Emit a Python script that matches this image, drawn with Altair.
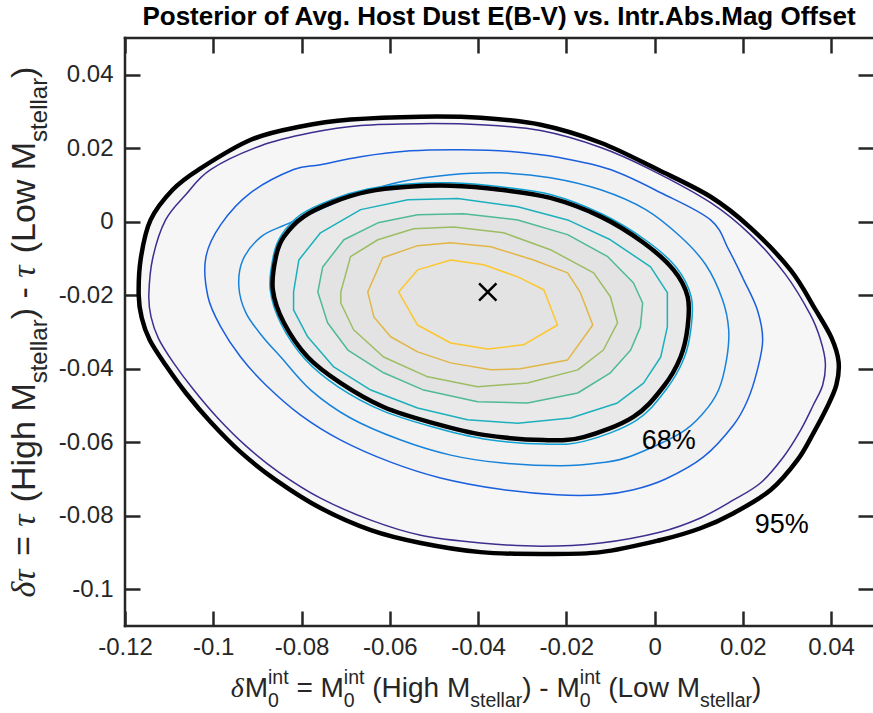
import altair as alt
import pandas as pd

# ---------------- data ----------------
c95_x = [-0.1169, -0.1164, -0.1142, -0.1092, -0.1033, -0.0915, -0.0802, -0.0689, -0.0530, -0.0394, -0.0258, -0.0122, 0.0007, 0.0127, 0.0217, 0.0308, 0.0365, 0.0401, 0.0417, 0.0412, 0.0390, 0.0360, 0.0324, 0.0263, 0.0179, 0.0104, 0.0014, -0.0122, -0.0258, -0.0394, -0.0530, -0.0643, -0.0757, -0.0858, -0.0938, -0.1006, -0.1062, -0.1108, -0.1144, -0.1162]
c95_y = [-0.0199, -0.0098, 0.0005, 0.0087, 0.0142, 0.0223, 0.0259, 0.0278, 0.0286, 0.0283, 0.0264, 0.0215, 0.0142, 0.0068, -0.0016, -0.0131, -0.0240, -0.0316, -0.0381, -0.0444, -0.0507, -0.0575, -0.0648, -0.0730, -0.0793, -0.0834, -0.0866, -0.0899, -0.0904, -0.0899, -0.0874, -0.0839, -0.0779, -0.0703, -0.0627, -0.0545, -0.0466, -0.0390, -0.0322, -0.0262]

purple_x = [-0.1146, -0.1137, -0.1108, -0.1062, -0.1006, -0.0892, -0.0779, -0.0666, -0.0530, -0.0394, -0.0258, -0.0122, -0.0009, 0.0127, 0.0217, 0.0297, 0.0353, 0.0376, 0.0387, 0.0381, 0.0360, 0.0331, 0.0292, 0.0240, 0.0179, 0.0104, 0.0014, -0.0122, -0.0258, -0.0394, -0.0530, -0.0643, -0.0757, -0.0852, -0.0926, -0.0990, -0.1044, -0.1090, -0.1124, -0.1141]
purple_y = [-0.0199, -0.0098, 0.0005, 0.0074, 0.0142, 0.0207, 0.0242, 0.0262, 0.0267, 0.0264, 0.0248, 0.0202, 0.0142, 0.0052, -0.0035, -0.0144, -0.0253, -0.0321, -0.0384, -0.0444, -0.0498, -0.0567, -0.0640, -0.0711, -0.0757, -0.0806, -0.0844, -0.0874, -0.0883, -0.0874, -0.0853, -0.0812, -0.0752, -0.0681, -0.0610, -0.0534, -0.0458, -0.0384, -0.0318, -0.0259]

blue1_x = [-0.1017, -0.1012, -0.0983, -0.0938, -0.0881, -0.0802, -0.0711, -0.0598, -0.0485, -0.0349, -0.0222, -0.0122, -0.0050, 0.0025, 0.0111, 0.0179, 0.0211, 0.0233, 0.0245, 0.0233, 0.0202, 0.0168, 0.0127, 0.0014, -0.0100, -0.0213, -0.0326, -0.0439, -0.0553, -0.0666, -0.0757, -0.0818, -0.0915, -0.0983]
blue1_y = [-0.0098, -0.0204, -0.0286, -0.0368, -0.0444, -0.0526, -0.0594, -0.0654, -0.0697, -0.0728, -0.0743, -0.0743, -0.0730, -0.0700, -0.0640, -0.0553, -0.0485, -0.0403, -0.0321, -0.0240, -0.0158, -0.0076, 0.0005, 0.0079, 0.0142, 0.0174, 0.0191, 0.0196, 0.0193, 0.0177, 0.0155, 0.0142, 0.0079, -0.0008]

blue2_x = [-0.0942, -0.0926, -0.0888, -0.0847, -0.0779, -0.0689, -0.0575, -0.0462, -0.0349, -0.0213, -0.0122, -0.0054, 0.0059, 0.0111, 0.0145, 0.0163, 0.0168, 0.0154, 0.0116, 0.0059, -0.0020, -0.0122, -0.0236, -0.0349, -0.0462, -0.0575, -0.0677, -0.0734, -0.0779, -0.0836, -0.0892, -0.0933]
blue2_y = [-0.0177, -0.0248, -0.0313, -0.0368, -0.0458, -0.0534, -0.0594, -0.0635, -0.0656, -0.0664, -0.0656, -0.0638, -0.0575, -0.0520, -0.0458, -0.0376, -0.0294, -0.0212, -0.0117, -0.0041, 0.0033, 0.0087, 0.0120, 0.0133, 0.0128, 0.0109, 0.0074, 0.0046, 0.0022, -0.0008, -0.0041, -0.0104]

c68_x = [-0.0865, -0.0858, -0.0840, -0.0795, -0.0727, -0.0650, -0.0559, -0.0462, -0.0349, -0.0236, -0.0122, -0.0025, 0.0043, 0.0075, 0.0075, 0.0059, 0.0020, -0.0048, -0.0161, -0.0251, -0.0387, -0.0501, -0.0614, -0.0711, -0.0786, -0.0840]
c68_y = [-0.0185, -0.0095, -0.0041, 0.0014, 0.0054, 0.0082, 0.0095, 0.0098, 0.0087, 0.0065, 0.0014, -0.0057, -0.0131, -0.0204, -0.0286, -0.0368, -0.0449, -0.0531, -0.0586, -0.0594, -0.0580, -0.0548, -0.0504, -0.0439, -0.0368, -0.0275]

cyan_x = [-0.0871, -0.0864, -0.0846, -0.0801, -0.0730, -0.0650, -0.0559, -0.0462, -0.0349, -0.0232, -0.0119, -0.0019, 0.0049, 0.0083, 0.0083, 0.0067, 0.0026, -0.0042, -0.0158, -0.0251, -0.0387, -0.0504, -0.0617, -0.0717, -0.0792, -0.0846]
cyan_y = [-0.0185, -0.0094, -0.0037, 0.0020, 0.0061, 0.0089, 0.0103, 0.0106, 0.0095, 0.0073, 0.0021, -0.0051, -0.0124, -0.0204, -0.0286, -0.0371, -0.0457, -0.0541, -0.0597, -0.0605, -0.0591, -0.0558, -0.0514, -0.0449, -0.0374, -0.0279]

teal_x = [-0.0818, -0.0806, -0.0757, -0.0666, -0.0559, -0.0446, -0.0310, -0.0197, -0.0100, -0.0009, 0.0029, 0.0029, 0.0014, -0.0025, -0.0084, -0.0190, -0.0310, -0.0424, -0.0537, -0.0643, -0.0727, -0.0786, -0.0818]
teal_y = [-0.0191, -0.0104, -0.0030, 0.0033, 0.0060, 0.0063, 0.0041, 0.0005, -0.0049, -0.0123, -0.0193, -0.0286, -0.0368, -0.0439, -0.0493, -0.0534, -0.0548, -0.0539, -0.0507, -0.0458, -0.0395, -0.0313, -0.0240]

green_x = [-0.0763, -0.0752, -0.0704, -0.0627, -0.0537, -0.0433, -0.0310, -0.0197, -0.0106, -0.0048, -0.0027, -0.0032, -0.0054, -0.0100, -0.0174, -0.0288, -0.0401, -0.0523, -0.0614, -0.0695, -0.0741]
green_y = [-0.0191, -0.0123, -0.0049, -0.0003, 0.0019, 0.0022, 0.0005, -0.0035, -0.0095, -0.0166, -0.0221, -0.0286, -0.0349, -0.0411, -0.0466, -0.0493, -0.0490, -0.0458, -0.0411, -0.0349, -0.0275]

olive_x = [-0.0711, -0.0689, -0.0627, -0.0546, -0.0455, -0.0342, -0.0236, -0.0138, -0.0100, -0.0084, -0.0116, -0.0174, -0.0288, -0.0401, -0.0514, -0.0614, -0.0682, -0.0711]
olive_y = [-0.0191, -0.0095, -0.0049, -0.0019, -0.0014, -0.0030, -0.0076, -0.0139, -0.0204, -0.0275, -0.0349, -0.0403, -0.0439, -0.0449, -0.0422, -0.0368, -0.0294, -0.0221]

orange_x = [-0.0650, -0.0616, -0.0537, -0.0462, -0.0371, -0.0274, -0.0197, -0.0168, -0.0140, -0.0197, -0.0304, -0.0371, -0.0462, -0.0537, -0.0598, -0.0636]
orange_y = [-0.0191, -0.0098, -0.0065, -0.0057, -0.0068, -0.0104, -0.0139, -0.0193, -0.0281, -0.0376, -0.0400, -0.0403, -0.0384, -0.0354, -0.0313, -0.0259]

yellow_x = [-0.0580, -0.0537, -0.0462, -0.0387, -0.0310, -0.0251, -0.0220, -0.0297, -0.0378, -0.0462, -0.0537]
yellow_y = [-0.0191, -0.0131, -0.0104, -0.0117, -0.0150, -0.0185, -0.0281, -0.0335, -0.0346, -0.0330, -0.0281]

marker_x = [-0.0378]
marker_y = [-0.0191]

ann_text = ["68%", "95%"]
ann_x = [0.0032, 0.0288]
ann_y = [-0.0597, -0.0825]

x_ticks = [-0.12, -0.1, -0.08, -0.06, -0.04, -0.02, 0, 0.02, 0.04]
y_ticks = [-0.1, -0.08, -0.06, -0.04, -0.02, 0, 0.02, 0.04]

title_text = "Posterior of Avg. Host Dust E(B-V) vs. Intr.Abs.Mag Offset"

# ---------------- styling / layout ----------------
FONT = "Liberation Sans"
SERIF = "Liberation Serif"
DARK = "#262626"
XD = [-0.12, 0.0495]
YD = [-0.11, 0.05]
W, H = 748, 588
PADL, PADT = 125, 38
PXX = W / (XD[1] - XD[0])
PXY = H / (YD[1] - YD[0])
XS = alt.Scale(domain=XD, nice=False, zero=False)
YS = alt.Scale(domain=YD, nice=False, zero=False)

contours = [
    ("purple", purple_x, purple_y, "#3b2e8f", 1.5, "cardinal-closed"),
    ("black95", c95_x, c95_y, "#000000", 4.5, "cardinal-closed"),
    ("blue1", blue1_x, blue1_y, "#1a5fdd", 1.5, "cardinal-closed"),
    ("blue2", blue2_x, blue2_y, "#1682da", 1.5, "cardinal-closed"),
    ("cyan", cyan_x, cyan_y, "#0ea2d3", 1.5, "cardinal-closed"),
    ("black68", c68_x, c68_y, "#000000", 4.5, "cardinal-closed"),
    ("teal", teal_x, teal_y, "#1bb0bb", 1.5, "linear-closed"),
    ("green", green_x, green_y, "#4fb998", 1.5, "linear-closed"),
    ("olive", olive_x, olive_y, "#9cbd64", 1.5, "linear-closed"),
    ("orange", orange_x, orange_y, "#e2b646", 1.5, "linear-closed"),
    ("yellow", yellow_x, yellow_y, "#fcc72e", 1.5, "linear-closed"),
]
interp = {c[0]: c[5] for c in contours}

rows = []
for name, xs, ys, _, _, _ in contours:
    for i, (a, b) in enumerate(zip(xs, ys)):
        rows.append({"c": name, "i": i, "x": a, "y": b})
cdf = pd.DataFrame(rows)


def xq(axis=None):
    return alt.X("x:Q", scale=XS, axis=axis, title=None)


def yq(axis=None):
    return alt.Y("y:Q", scale=YS, axis=axis, title=None)


layers = []

# density impression of the posterior sample cloud (shaded regions)
for name, col in [("black95", "#f6f6f6"), ("blue1", "#f1f1f1"), ("cyan", "#e9e9e9"), ("green", "#e3e3e3")]:
    layers.append(
        alt.Chart(cdf).transform_filter(alt.datum.c == name)
        .mark_line(interpolate=interp[name], fill=col, strokeOpacity=0)
        .encode(x=xq(), y=yq(), order=alt.Order("i:Q"))
    )

for name, _, _, col, sw, ip in contours:
    layers.append(
        alt.Chart(cdf).transform_filter(alt.datum.c == name)
        .mark_line(interpolate=ip, color=col, strokeWidth=sw, strokeJoin="round")
        .encode(x=xq(), y=yq(), order=alt.Order("i:Q"))
    )

common_axis = dict(tickSize=15, tickWidth=2.5, tickColor=DARK, domain=False, grid=False,
                   offset=-15, labelFont=FONT, labelFontSize=24, labelColor=DARK,
                   labelOverlap=False, labelFlush=False, labelExpr="toString(datum.value)")
ax_bottom = alt.Axis(orient="bottom", values=x_ticks, labelPadding=9, **common_axis)
ax_left = alt.Axis(orient="left", values=y_ticks, labelPadding=12, **common_axis)
ax_top = alt.Axis(orient="top", values=x_ticks, labels=False, tickSize=15, tickWidth=2.5,
                  tickColor=DARK, domain=False, grid=False, offset=-15)
ax_right = alt.Axis(orient="right", values=y_ticks, labels=False, tickSize=15, tickWidth=2.5,
                    tickColor=DARK, domain=False, grid=False, offset=-15)

mdf = pd.DataFrame({"x": marker_x, "y": marker_y})
layers.append(
    alt.Chart(mdf).mark_point(shape="M-1,-1L1,1M-1,1L1,-1", size=300, filled=False,
                              strokeWidth=2.5, color="black", opacity=1)
    .encode(x=xq(ax_bottom), y=yq(ax_left))
)

adf = pd.DataFrame({"x": ann_x, "y": ann_y, "t": ann_text})
layers.append(
    alt.Chart(adf).mark_text(font=FONT, fontSize=27, color="black", align="center", baseline="middle")
    .encode(x=xq(ax_top), y=yq(ax_right), text="t:N")
)

# frame (left, top, bottom edges of the axes box)
fdf = pd.DataFrame({"x": [XD[0], XD[0], XD[0]], "x2": [XD[1], XD[0], XD[1]],
                    "y": [YD[1], YD[0], YD[0]], "y2": [YD[1], YD[1], YD[0]]})
layers.append(
    alt.Chart(fdf).mark_rule(color=DARK, strokeWidth=2.5, strokeCap="square")
    .encode(x=xq(), x2="x2:Q", y=yq(), y2="y2:Q")
)

# ---------------- axis titles with sub/superscripts ----------------
AR = {' ': 0.278, '(': 0.333, ')': 0.333, '-': 0.333, '=': 0.584, 'H': 0.722, 'L': 0.556,
      'M': 0.833, 'a': 0.556, 'e': 0.556, 'g': 0.556, 'h': 0.556, 'i': 0.222, 'l': 0.222,
      'n': 0.556, 'o': 0.556, 'r': 0.333, 's': 0.5, 't': 0.278, 'w': 0.722, '0': 0.556}
SR = {'δ': 0.5, 'τ': 0.44}


def tw(s, size, serif=False):
    tab = SR if serif else AR
    return sum(tab.get(ch, 0.556) for ch in s) * size


def layout(tokens, FS, FS2, SUP, SUB):
    pos, segs = 0.0, []
    for tk in tokens:
        if tk[0] == "T":
            text, serif = tk[1], tk[2]
            body = text.strip(" ")
            lead = len(text) - len(text.lstrip(" "))
            trail = len(text) - lead - len(body)
            pos += lead * AR[' '] * FS
            segs.append({"t": body, "off": pos, "shift": 0, "g": "serif" if serif else "main"})
            pos += tw(body, FS, serif) + trail * AR[' '] * FS
        elif tk[0] == "STACK":
            segs.append({"t": tk[1], "off": pos, "shift": -SUP, "g": "small"})
            segs.append({"t": tk[2], "off": pos, "shift": SUB, "g": "small"})
            pos += max(tw(tk[1], FS2), tw(tk[2], FS2))
        else:
            segs.append({"t": tk[1], "off": pos, "shift": SUB, "g": "small"})
            pos += tw(tk[1], FS2)
    return segs, pos


xtok = [("T", "δ", True), ("T", "M", False), ("STACK", "int", "0"), ("T", " = M", False),
        ("STACK", "int", "0"), ("T", " (High M", False), ("SUB", "stellar"),
        ("T", ") - M", False), ("STACK", "int", "0"), ("T", " (Low M", False),
        ("SUB", "stellar"), ("T", ")", False)]
ytok = [("T", "δτ", True), ("T", " = ", False), ("T", "τ", True), ("T", " (High M", False),
        ("SUB", "stellar"), ("T", ") - ", False), ("T", "τ", True), ("T", " (Low M", False),
        ("SUB", "stellar"), ("T", ")", False)]

XFS, XFS2 = 28, 19.5
YFS, YFS2 = 34, 24


def to_x(px):
    return XD[0] + (px - PADL) / PXX


def to_y(py):
    return YD[1] - (py - PADT) / PXY


trows = []
segs, tot = layout(xtok, XFS, XFS2, 13, 10)
x0 = 496 - tot / 2
for s in segs:
    trows.append({"t": s["t"], "x": to_x(x0 + s["off"]), "y": to_y(697 + s["shift"]), "g": "x_" + s["g"]})
segs, tot = layout(ytok, YFS, YFS2, 16, 12)
y0 = PADT + H / 2 + tot / 2
for s in segs:
    trows.append({"t": s["t"], "x": to_x(35 + s["shift"]), "y": to_y(y0 - s["off"]), "g": "y_" + s["g"]})
tdf = pd.DataFrame(trows)

for g, fam, style, size, ang in [("x_main", FONT, "normal", XFS, 0), ("x_serif", SERIF, "italic", XFS, 0),
                                 ("x_small", FONT, "normal", XFS2, 0), ("y_main", FONT, "normal", YFS, 270),
                                 ("y_serif", SERIF, "italic", YFS, 270), ("y_small", FONT, "normal", YFS2, 270)]:
    layers.append(
        alt.Chart(tdf).transform_filter(alt.datum.g == g)
        .mark_text(font=fam, fontStyle=style, fontSize=size, angle=ang, align="left",
                   baseline="alphabetic", color=DARK)
        .encode(x=xq(), y=yq(), text="t:N")
    )

chart = (
    alt.layer(*layers)
    .resolve_axis(x="independent", y="independent")
    .properties(
        width=W, height=H,
        padding={"left": PADL, "top": PADT, "right": 0, "bottom": 713 - PADT - H},
        autosize=alt.AutoSizeParams(type="none"),
        title=alt.TitleParams(text=title_text, anchor="middle", font=FONT, fontSize=26,
                              fontWeight="bold", color="black", offset=6),
        background="white",
    )
    .configure_view(strokeWidth=0)
)

chart.save("out.html", embed_options={"renderer": "svg", "actions": False})
